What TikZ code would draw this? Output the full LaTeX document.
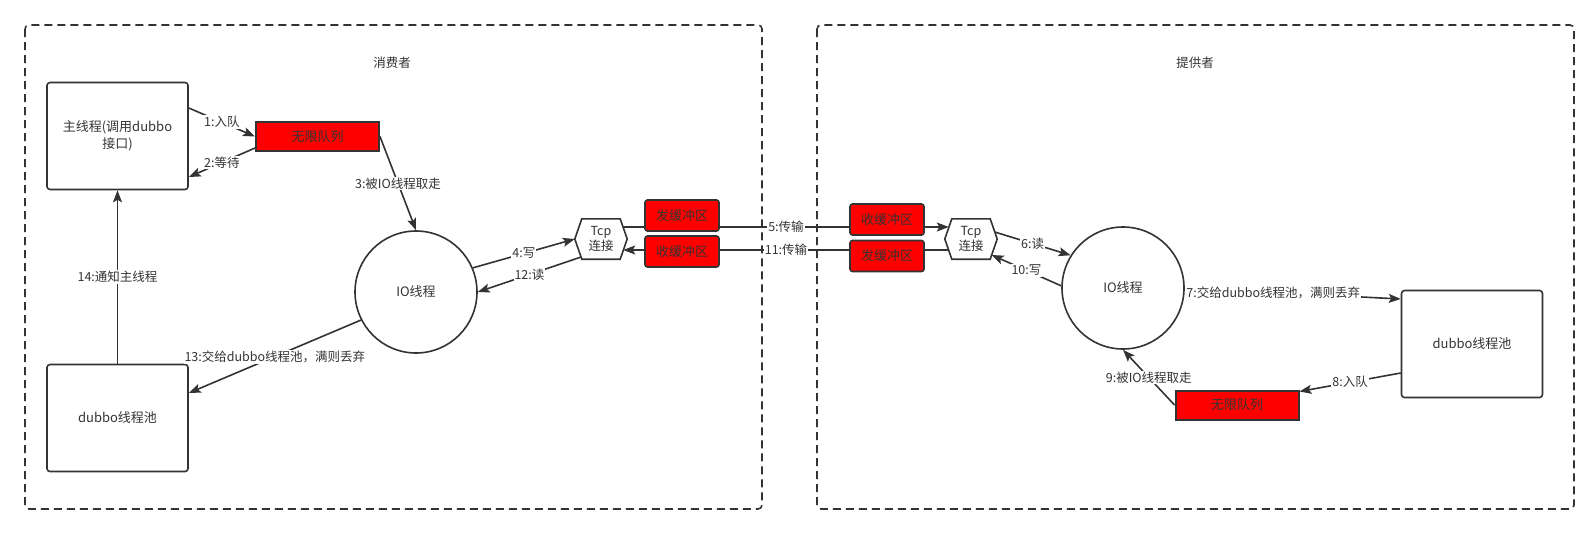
\documentclass[tikz,border=0pt]{standalone}
\usepackage{fontspec}
\setmainfont{Noto Sans CJK SC}
\usetikzlibrary{arrows.meta}
\definecolor{ln}{HTML}{333333}
\definecolor{qred}{HTML}{FF0000}

\begin{document}
\begin{tikzpicture}[x=1pt,y=-1pt,
  box/.style={draw=ln,line width=1.6pt,rounded corners=3pt,minimum width=141pt,minimum height=107pt,align=center,text=ln,font=\fontsize{13}{17}\selectfont},
  queue/.style={draw=ln,line width=2pt,fill=qred,minimum width=123pt,minimum height=29pt,inner sep=0pt,text=ln,font=\fontsize{13}{15}\selectfont},
  buf/.style={draw=ln,line width=1.6pt,fill=qred,rounded corners=2.5pt,minimum width=74pt,minimum height=31pt,inner sep=0pt,text=ln,font=\fontsize{13}{15}\selectfont},
  io/.style={circle,draw=ln,line width=1.6pt,minimum size=122pt,inner sep=0pt,text=ln,font=\fontsize{13}{15}\selectfont},
  tcp/.style={minimum width=52pt,minimum height=40pt,inner sep=0pt},
  link/.style={draw=ln,line width=1.6pt,-{Stealth[length=12pt,width=9pt,inset=2.5pt]}},
  lbl/.style={fill=white,inner sep=1pt,text=ln,font=\fontsize{12.5}{14}\selectfont},
  group/.style={draw=ln,line width=1.6pt,dash pattern=on 8pt off 5pt,rounded corners=4pt}]
\useasboundingbox (0,0) rectangle (1595,533);
\draw[group] (25,25) rectangle (762,509);
\draw[group] (817,25) rectangle (1574,509);
\node[lbl] (cons) at (392,63) {消费者};
\node[lbl] (prov) at (1195,63) {提供者};

% consumer side
\node[box] (main) at (117.5,136) {主线程(调用dubbo\\接口)};
\node[queue] (qL) at (317.5,136.5) {无限队列};
\node[io] (ioL) at (416,292) {IO线程};
\node[tcp] (tcpL) at (601,239) {};
\node[box] (dubL) at (117.5,418) {dubbo线程池};

% provider side
\node[tcp] (tcpR) at (971,239) {};
\node[io] (ioR) at (1123,288) {IO线程};
\node[box] (dubR) at (1472,344) {dubbo线程池};
\node[queue] (qR) at (1237,405) {无限队列};

\draw[link] ([yshift=28]main.east) -- (qL.west) node[lbl,midway] {1:入队};
\draw[link] ([yshift=-11.5]qL.west) -- ([yshift=-41]main.east) node[lbl,midway] {2:等待};
\draw[link] (qL.east) -- (ioL.north) node[lbl,midway] {3:被IO线程取走};
\draw[link] (ioL.23) -- (tcpL.west) node[lbl,midway] {4:写};
\draw[link] ([xshift=-4,yshift=12]tcpL.east) -- ([xshift=4,yshift=12]tcpR.west) node[lbl,midway] {5:传输};
\draw[link] ([xshift=-2.5,yshift=7]tcpR.east) -- (ioR.148) node[lbl,midway] {6:读};
\draw[link] (ioR.east) -- ([yshift=45]dubR.west) node[lbl,pos=0.41] {7:交给dubbo线程池，满则丢弃};
\draw[link] ([yshift=-29]dubR.west) -- ([yshift=-2]qR.north east) node[lbl,midway] {8:入队};
\draw[link] (qR.west) -- (ioR.south) node[lbl,midway] {9:被IO线程取走};
\draw[link] (ioR.178) -- ([xshift=-5.6,yshift=-16]tcpR.east) node[lbl,midway] {10:写};
\draw[link] ([xshift=4,yshift=-11]tcpR.west) -- ([xshift=-4,yshift=-11]tcpL.east) node[lbl,midway] {11:传输};
\draw[link] ([xshift=6.3,yshift=-18]tcpL.west) -- (ioL.east) node[lbl,midway] {12:读};
\draw[link] (ioL.207) -- ([yshift=25]dubL.east) node[lbl,midway] {13:交给dubbo线程池，满则丢弃};
\draw[link] (dubL.north) -- (main.south) node[lbl,midway] {14:通知主线程};

\node[buf] (sendL) at (682,215.5) {发缓冲区};
\node[buf] (recvL) at (682,251.5) {收缓冲区};
\node[buf] (recvR) at (887,219.5) {收缓冲区};
\node[buf] (sendR) at (887,256) {发缓冲区};

\foreach \h in {tcpL,tcpR}
  \draw[ln,line width=1.6pt,fill=white] (\h.west) -- ([xshift=7]\h.north west) -- ([xshift=-7]\h.north east)
    -- (\h.east) -- ([xshift=-7]\h.south east) -- ([xshift=7]\h.south west) -- cycle;
\node[align=center,text=ln,font=\fontsize{12.5}{15}\selectfont] (tcpLtext) at (tcpL) {Tcp\\连接};
\node[align=center,text=ln,font=\fontsize{12.5}{15}\selectfont] (tcpRtext) at (tcpR) {Tcp\\连接};
\end{tikzpicture}
\end{document}
